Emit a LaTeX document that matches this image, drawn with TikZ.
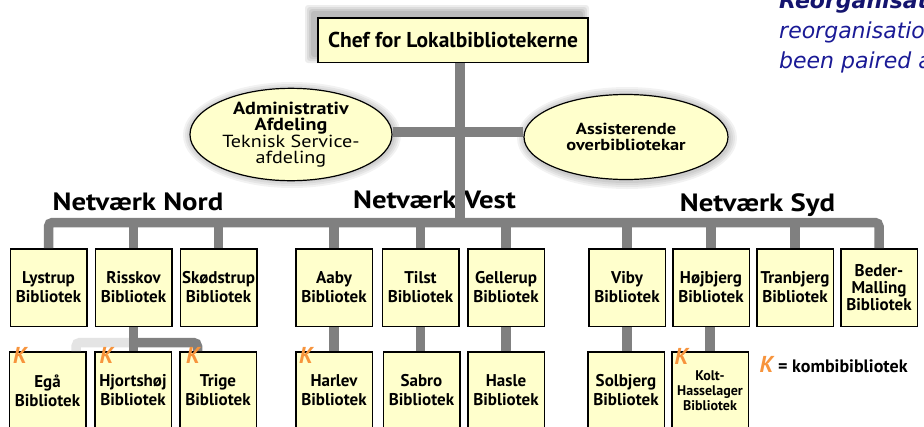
\documentclass[tikz,border=0pt]{standalone}
\usepackage{fontspec}
\setmainfont{PT Sans}
\newfontfamily\titlefont[FakeStretch=1.15]{PT Sans}
\newfontfamily\dvs{DejaVu Sans}
\usetikzlibrary{shapes.geometric}
\definecolor{boxfill}{HTML}{FFFFCC}
\definecolor{conngray}{HTML}{808080}
\definecolor{lightconn}{HTML}{E4E4E4}
\definecolor{korange}{HTML}{F7943C}
\definecolor{navyA}{HTML}{14146E}
\definecolor{navyB}{HTML}{1A1A96}
\begin{document}
\begin{tikzpicture}[x=1pt,y=-1pt,
  lib/.style={draw=black, line width=1.5pt, fill=boxfill, minimum width=76.5pt, minimum height=77.5pt, inner sep=0pt, align=center, font=\bfseries\fontsize{17}{19}\selectfont},
  oval/.style={ellipse, draw=black, line width=1.2pt, fill=boxfill, inner sep=0pt, align=center},
  conn/.style={draw=conngray, line width=9.5pt},
  lconn/.style={draw=lightconn, line width=9.5pt},
  kmark/.style={text=korange, font=\bfseries\itshape\fontsize{23}{23}\selectfont, inner sep=0pt},
  net/.style={font=\titlefont\bfseries\fontsize{25}{25}\selectfont, inner sep=0pt, anchor=base},
  glow/.style={fill=black, opacity=0.05},
  note/.style={anchor=base west, inner sep=0pt, font=\dvs\itshape\fontsize{22}{22}\selectfont}
]
\useasboundingbox (0,0) rectangle (924,426);
\clip (0,0) rectangle (924,426);
\fill[white] (0,0) rectangle (924,426);

% top-right note (clipped at the edge, as in the reference)
\node[note, text=navyA, font=\dvs\bfseries\itshape\fontsize{22}{22}\selectfont] (noteA) at (779,8) {Reorganisat};
\node[note, text=navyB] (noteB) at (779,38) {reorganisation};
\node[note, text=navyB] (noteC) at (779,68) {been paired a};

% soft shadows
\foreach \d in {0,2,4,6} {
  \fill[black, opacity=0.07, rounded corners=3] (311-\d,11-\d) rectangle (583+\d,57+\d);
  \fill[glow] (292,135) ellipse ({103+\d} and {47+\d});
  \fill[glow] (627,138) ellipse ({104+\d} and {45+\d});
}

% top nodes
\node[draw=black, line width=1.5pt, fill=boxfill, minimum width=270pt, minimum height=44.5pt, inner sep=0pt, font=\bfseries\fontsize{21.5}{22}\selectfont] (chef) at (453,40) {Chef for Lokalbibliotekerne};
\node[oval, minimum width=202pt, minimum height=90pt, font=\titlefont\fontsize{17.5}{16}\selectfont] (admin) at (291,134.5)
  {\textbf{Administrativ}\\\textbf{Afdeling}\\Teknisk Service-\\afdeling};
\node[oval, minimum width=204pt, minimum height=85pt, font=\titlefont\bfseries\fontsize{16}{16.5}\selectfont] (assist) at (626,137)
  {Assisterende\\overbibliotekar};

% network titles
\node[net] (tNord) at (138,210) {Netværk Nord};
\node[net] (tVest) at (434.5,208) {Netværk Vest};
\node[net] (tSyd) at (757.5,211) {Netværk Syd};

% row 1
\node[lib] (lystrup) at (48.5,287.5) {Lystrup\\Bibliotek};
\node[lib] (risskov) at (133.5,287.5) {Risskov\\Bibliotek};
\node[lib] (skoed) at (218.5,287.5) {Skødstrup\\Bibliotek};
\node[lib] (aaby) at (334,287.5) {Aaby\\Bibliotek};
\node[lib] (tilst) at (420.5,287.5) {Tilst\\Bibliotek};
\node[lib] (geller) at (506,287.5) {Gellerup\\Bibliotek};
\node[lib] (viby) at (627,287.5) {Viby\\Bibliotek};
\node[lib] (hoej) at (711,287.5) {Højbjerg\\Bibliotek};
\node[lib] (tran) at (795,287.5) {Tranbjerg\\Bibliotek};
\node[lib, font=\bfseries\fontsize{17}{17}\selectfont] (beder) at (879,287.5) {Beder-\\Malling\\Bibliotek};

% row 2
\node[lib] (ega) at (47.5,390.5) {Egå\\Bibliotek};
\node[lib] (hjort) at (133,390.5) {Hjortshøj\\Bibliotek};
\node[lib] (trige) at (218,390.5) {Trige\\Bibliotek};
\node[lib] (harlev) at (334,390.5) {Harlev\\Bibliotek};
\node[lib] (sabro) at (421.5,390.5) {Sabro\\Bibliotek};
\node[lib] (hasle) at (506,390.5) {Hasle\\Bibliotek};
\node[lib] (solb) at (626,390.5) {Solbjerg\\Bibliotek};
\node[lib, font=\bfseries\fontsize{14}{15}\selectfont] (kolt) at (710,390.5) {Kolt-\\Hasselager\\Bibliotek};

% connector helper coordinates
\coordinate (bus) at (460,222.5);
\coordinate (ay) at (0,132);
\coordinate (tj) at (0,342.5);
\coordinate (trigeIn) at (197.5,351);
\coordinate (egaIn) at (76,351);

% connectors
\draw[conn] (chef.south -| bus) -- (bus);
\draw[conn] (admin.east |- ay) -- (assist.west |- ay);
\draw[conn, rounded corners=4] (lystrup.north) |- (bus) -| (beder.north);
\foreach \n in {risskov,skoed,aaby,tilst,geller,viby,hoej,tran}
  \draw[conn] (\n.north) -- (\n.north |- bus);
\draw[lconn, rounded corners=4] (risskov.south |- tj) -| (egaIn);
\draw[conn] (risskov.south) -- (risskov.south |- hjort.north);
\draw[conn, rounded corners=4] (risskov.south |- tj) -| (trigeIn);
\draw[conn] (aaby.south) -- (harlev.north);
\draw[conn] (tilst.south) -- (tilst.south |- sabro.north);
\draw[conn] (geller.south) -- (hasle.north);
\draw[conn] (viby.south) -- (viby.south |- solb.north);
\draw[conn] (kolt.north) -- (kolt.north |- hoej.south);

% K marks
\node[kmark] (kEga) at (20,355.5) {K};
\node[kmark] (kHjort) at (106.5,355.5) {K};
\node[kmark] (kTrige) at (193,355.5) {K};
\node[kmark] (kHarlev) at (306,355) {K};
\node[kmark] (kKolt) at (681.5,356) {K};
\node[kmark] (kLeg) at (766.5,364.5) {K};
\node[anchor=base west, inner sep=0pt, font=\bfseries\fontsize{18}{18}\selectfont] (legend) at (778,372) {= kombibibliotek};
\end{tikzpicture}
\end{document}
